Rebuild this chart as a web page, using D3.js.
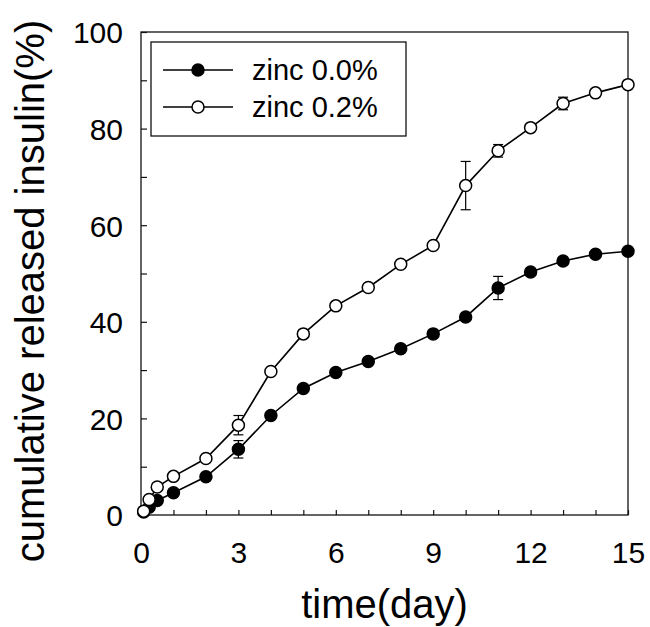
<!DOCTYPE html>
<html>
<head>
<meta charset="utf-8">
<script src="https://cdn.jsdelivr.net/npm/d3@7"></script>
<style>
  body { margin: 0; background: #fff; }
  text { font-family: "Liberation Sans", Arial, sans-serif; fill: #000; }
</style>
</head>
<body>
<div id="chart"></div>
<script>
// release data
const days = [0.083, 0.25, 0.5, 1, 2, 3, 4, 5, 6, 7, 8, 9, 10, 11, 12, 13, 14, 15];
const zinc00 = [0.6, 1.6, 3.0, 4.6, 7.9, 13.6, 20.6, 26.2, 29.5, 31.8, 34.4, 37.5, 41.0, 47.0, 50.3, 52.6, 54.0, 54.6];
const zinc02 = [0.8, 3.2, 5.8, 8.0, 11.7, 18.6, 29.7, 37.5, 43.3, 47.1, 51.9, 55.8, 68.2, 75.4, 80.2, 85.2, 87.4, 89.1];
const err00 = [0, 0, 0, 0, 0, 1.8, 0, 0, 0, 0, 0, 0, 0, 2.4, 0, 0, 0, 0];
const err02 = [0, 0, 0, 0, 0, 2.0, 0, 0, 0, 0, 0, 0, 5.0, 1.3, 0, 1.3, 0, 0];
const seriesNames = ["zinc 0.0%", "zinc 0.2%"];
const xTickLabels = [0, 3, 6, 9, 12, 15];
const yTickLabels = [0, 20, 40, 60, 80, 100];

const width = 650, height = 627;
const plotL = 141, plotR = 628, plotT = 32, plotB = 515;

const svg = d3.select("#chart").append("svg")
    .attr("width", width)
    .attr("height", height);

const x = d3.scaleLinear().domain([0, 15]).range([plotL, plotR]);
const y = d3.scaleLinear().domain([0, 100]).range([plotB, plotT]);

// frame
svg.append("rect")
    .attr("x", plotL).attr("y", plotT)
    .attr("width", plotR - plotL).attr("height", plotB - plotT)
    .attr("fill", "none").attr("stroke", "#111").attr("stroke-width", 1.3);

// axes with inward ticks
const xAxis = d3.axisBottom(x)
    .tickValues(d3.range(0, 16, 1))
    .tickSize(-5)
    .tickPadding(27)
    .tickFormat(d => xTickLabels.includes(d) ? d : "");
const gx = svg.append("g")
    .attr("transform", `translate(0,${plotB})`)
    .call(xAxis);

const yAxis = d3.axisLeft(y)
    .tickValues(d3.range(0, 101, 10))
    .tickSize(-6)
    .tickPadding(18)
    .tickFormat(d => yTickLabels.includes(d) ? d : "");
const gy = svg.append("g")
    .attr("transform", `translate(${plotL},0)`)
    .call(yAxis);

[gx, gy].forEach(g => {
  g.select(".domain").remove();
  g.selectAll(".tick line").attr("stroke", "#111").attr("stroke-width", 1.2);
  g.selectAll(".tick text").style("font-size", "30px");
});
gy.selectAll(".tick text").attr("dy", "0.36em");

// axis titles
svg.append("text")
    .attr("x", (plotL + plotR) / 2)
    .attr("y", 618)
    .attr("text-anchor", "middle")
    .style("font-size", "40px")
    .text("time(day)");

svg.append("text")
    .attr("transform", `translate(44,291) rotate(-90)`)
    .attr("text-anchor", "middle")
    .style("font-size", "40px")
    .text("cumulative released insulin(%)");

const line = d3.line()
    .x(d => x(d.t))
    .y(d => y(d.v));

function drawSeries(vals, errs, fill) {
  const data = days.map((t, i) => ({ t: t, v: vals[i], e: errs[i] }));
  svg.append("path")
      .datum(data)
      .attr("d", line)
      .attr("fill", "none")
      .attr("stroke", "#000")
      .attr("stroke-width", 1.6);

  const eb = svg.append("g").selectAll("g")
      .data(data.filter(d => d.e > 0))
      .enter().append("g")
      .attr("stroke", "#000")
      .attr("stroke-width", 1.2);
  eb.append("line")
      .attr("x1", d => x(d.t)).attr("x2", d => x(d.t))
      .attr("y1", d => y(d.v - d.e)).attr("y2", d => y(d.v + d.e));
  eb.append("line")
      .attr("x1", d => x(d.t) - 5).attr("x2", d => x(d.t) + 5)
      .attr("y1", d => y(d.v - d.e)).attr("y2", d => y(d.v - d.e));
  eb.append("line")
      .attr("x1", d => x(d.t) - 5).attr("x2", d => x(d.t) + 5)
      .attr("y1", d => y(d.v + d.e)).attr("y2", d => y(d.v + d.e));

  svg.append("g").selectAll("circle")
      .data(data)
      .enter().append("circle")
      .attr("cx", d => x(d.t))
      .attr("cy", d => y(d.v))
      .attr("r", 6)
      .attr("fill", fill)
      .attr("stroke", "#000")
      .attr("stroke-width", 1.5);
}

drawSeries(zinc00, err00, "#000");
drawSeries(zinc02, err02, "#fff");

// legend
const legend = svg.append("g").attr("transform", "translate(151,42)");
legend.append("rect")
    .attr("width", 255).attr("height", 94)
    .attr("fill", "#fff").attr("stroke", "#111").attr("stroke-width", 1.3);
const rows = legend.selectAll("g.row")
    .data(seriesNames)
    .enter().append("g")
    .attr("class", "row")
    .attr("transform", (d, i) => `translate(0,${28 + i * 37})`);
rows.append("line")
    .attr("x1", 12).attr("x2", 82)
    .attr("stroke", "#000").attr("stroke-width", 1.6);
rows.append("circle")
    .attr("cx", 47).attr("r", 6)
    .attr("fill", (d, i) => i === 0 ? "#000" : "#fff")
    .attr("stroke", "#000").attr("stroke-width", 1.5);
rows.append("text")
    .attr("x", 101)
    .attr("dy", "0.36em")
    .style("font-size", "29px")
    .text(d => d);
</script>
</body>
</html>
